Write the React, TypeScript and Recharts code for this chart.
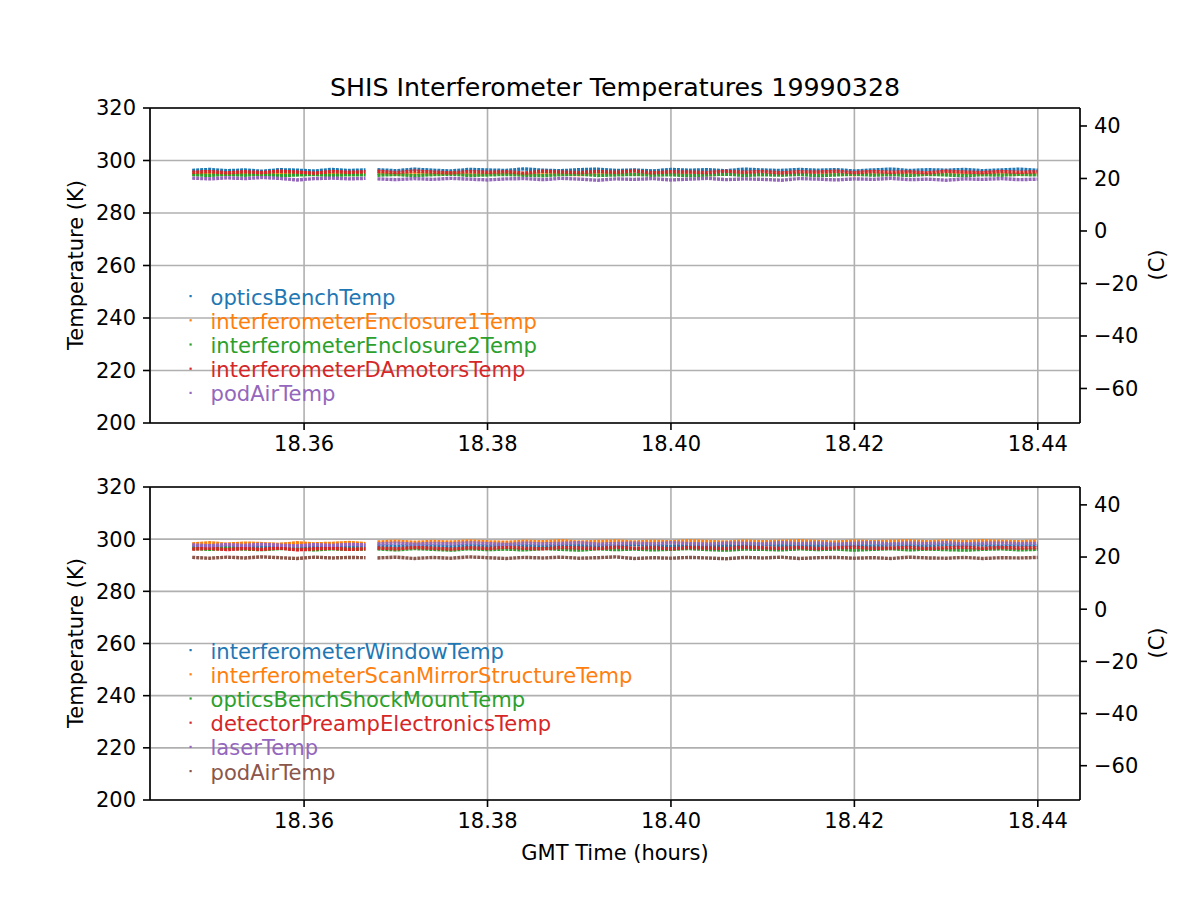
import {
  CartesianGrid,
  Line,
  LineChart,
  ReferenceLine,
  XAxis,
  YAxis,
} from 'recharts';

const FONT = '"DejaVu Sans", sans-serif';
const COLORS = ['#1f77b4', '#ff7f0e', '#2ca02c', '#d62728', '#9467bd', '#8c564b'];

// GMT time in hours; the null row marks the data gap
const times = [
  18.3478, 18.3497, 18.3516, 18.3535, 18.3554, 18.3573, 18.3592, 18.3611, 18.363, 18.3649, 18.3667,
  18.3673,
  18.368, 18.37, 18.372, 18.374, 18.376, 18.378, 18.38, 18.382, 18.384, 18.386, 18.388, 18.39,
  18.392, 18.394, 18.396, 18.398, 18.4, 18.402, 18.404, 18.406, 18.408, 18.41, 18.412, 18.414,
  18.416, 18.418, 18.42, 18.422, 18.424, 18.426, 18.428, 18.43, 18.432, 18.434, 18.436, 18.438, 18.44,
];

const xTicks = [18.36, 18.38, 18.4, 18.42, 18.44];
const kTicks = [200, 220, 240, 260, 280, 300, 320];
const cTicks = [-60, -40, -20, 0, 20, 40];

// top panel
const opticsBenchTemp = [296.2, 296.6, 296.1, 296.4, 295.9, 296.5, 296.3, 296.0, 296.6, 296.2, 296.4, null, 296.5, 296.1, 296.7, 296.3, 296.0, 296.6, 296.4, 296.2, 296.8, 296.3, 296.1, 296.5, 296.7, 296.2, 296.4, 296.0, 296.6, 296.3, 296.5, 296.1, 296.7, 296.4, 296.2, 296.6, 296.3, 296.5, 296.0, 296.4, 296.7, 296.2, 296.5, 296.3, 296.6, 296.1, 296.4, 296.7, 296.3];
const enclosure1Temp = [294.8, 295.1, 294.7, 295.0, 294.6, 294.9, 295.2, 294.8, 294.6, 295.0, 294.9, null, 295.1, 294.7, 295.0, 294.8, 295.2, 294.6, 294.9, 295.1, 294.7, 295.0, 294.8, 294.6, 295.1, 294.9, 294.7, 295.2, 294.8, 295.0, 294.6, 294.9, 295.1, 294.7, 295.0, 294.8, 295.2, 294.9, 294.6, 295.0, 294.8, 295.1, 294.7, 294.9, 295.2, 294.8, 295.0, 294.7, 294.9];
const enclosure2Temp = [294.6, 294.3, 294.7, 294.4, 294.8, 294.2, 294.5, 294.7, 294.3, 294.6, 294.5, null, 294.4, 294.7, 294.2, 294.6, 294.8, 294.3, 294.5, 294.7, 294.4, 294.2, 294.6, 294.8, 294.3, 294.5, 294.7, 294.4, 294.6, 294.2, 294.5, 294.8, 294.3, 294.6, 294.4, 294.7, 294.2, 294.5, 294.8, 294.4, 294.6, 294.3, 294.7, 294.5, 294.2, 294.6, 294.4, 294.7, 294.5];
const daMotorsTemp = [295.5, 295.8, 295.3, 295.7, 295.4, 295.9, 295.6, 295.2, 295.8, 295.5, 295.7, null, 295.9, 295.4, 296.0, 295.6, 295.3, 295.8, 295.5, 295.7, 295.2, 295.9, 295.6, 295.4, 295.8, 295.5, 296.0, 295.3, 295.7, 295.6, 295.4, 295.9, 295.5, 295.8, 295.3, 295.7, 295.6, 295.9, 295.4, 295.8, 295.5, 295.7, 295.3, 295.9, 295.6, 295.4, 295.8, 295.5, 295.7];
const podAirTop = [293.3, 293.0, 293.4, 293.1, 293.5, 293.2, 292.6, 293.1, 293.3, 293.0, 293.2, null, 293.0, 292.7, 293.1, 292.8, 293.2, 292.9, 292.6, 293.0, 293.1, 292.7, 293.2, 292.9, 292.5, 293.0, 292.8, 293.1, 292.6, 292.9, 293.2, 292.7, 293.0, 292.8, 292.5, 293.1, 292.9, 292.6, 293.0, 292.8, 293.2, 292.7, 292.9, 292.5, 293.0, 292.8, 293.1, 292.7, 292.9];

// bottom panel
const windowTemp = [297.2, 297.5, 297.0, 297.4, 297.1, 297.6, 297.3, 297.0, 297.5, 297.2, 297.4, null, 297.6, 297.3, 297.8, 297.5, 297.2, 297.7, 297.4, 297.9, 297.6, 297.3, 297.8, 297.5, 297.7, 297.4, 297.9, 297.6, 297.3, 297.8, 297.5, 297.7, 297.4, 298.0, 297.6, 297.8, 297.5, 297.9, 297.6, 297.4, 297.8, 297.7, 297.5, 297.9, 297.6, 297.8, 297.4, 297.7, 297.6];
const scanMirrorTemp = [298.2, 298.6, 298.1, 298.5, 298.3, 298.0, 298.6, 298.2, 298.4, 298.7, 298.3, null, 298.9, 299.2, 298.8, 299.1, 298.9, 299.3, 299.0, 298.8, 299.2, 299.0, 299.4, 298.9, 299.1, 299.3, 298.9, 299.2, 299.0, 299.4, 299.1, 298.9, 299.3, 299.0, 299.2, 299.4, 299.1, 298.9, 299.3, 299.0, 299.2, 299.4, 299.0, 299.3, 299.1, 299.4, 299.2, 299.0, 299.3];
const shockMountTemp = [296.4, 296.1, 296.5, 296.2, 296.0, 296.4, 296.3, 295.9, 296.3, 296.1, 296.2, null, 296.3, 295.9, 296.4, 296.1, 295.8, 296.3, 296.0, 296.2, 295.9, 296.4, 296.1, 295.8, 296.3, 296.0, 296.2, 295.9, 296.1, 296.4, 296.0, 295.8, 296.2, 296.1, 295.9, 296.3, 296.0, 296.2, 295.8, 296.1, 296.3, 295.9, 296.2, 296.0, 295.8, 296.1, 296.3, 295.9, 296.1];
const preampTemp = [296.2, 296.5, 296.0, 296.4, 296.1, 296.6, 295.9, 296.3, 296.5, 296.1, 296.3, null, 296.6, 296.3, 296.8, 296.5, 296.2, 296.7, 296.4, 296.9, 296.5, 296.3, 296.8, 296.6, 296.4, 296.9, 296.5, 296.7, 296.3, 296.8, 296.6, 296.4, 296.9, 296.7, 296.5, 296.8, 296.4, 296.7, 296.9, 296.5, 296.6, 296.8, 296.4, 296.7, 296.9, 296.5, 296.8, 296.6, 296.7];
const laserTemp = [297.8, 297.5, 297.9, 297.6, 298.0, 297.7, 297.4, 297.9, 297.6, 298.0, 297.8, null, 298.2, 298.5, 298.1, 298.4, 298.2, 298.6, 298.3, 298.0, 298.5, 298.2, 298.4, 298.6, 298.1, 298.3, 298.5, 298.2, 298.6, 298.3, 298.1, 298.5, 298.4, 298.2, 298.6, 298.3, 298.5, 298.1, 298.4, 298.6, 298.2, 298.5, 298.3, 298.6, 298.2, 298.4, 298.5, 298.3, 298.4];
const podAirBottom = [293.0, 292.7, 293.1, 292.8, 293.2, 292.9, 292.6, 293.1, 292.8, 293.0, 292.9, null, 292.8, 293.1, 292.6, 293.0, 292.7, 293.2, 292.9, 292.6, 293.0, 292.8, 293.1, 292.7, 292.9, 293.2, 292.6, 292.9, 292.7, 293.0, 292.8, 292.5, 293.0, 292.8, 293.1, 292.6, 292.9, 293.0, 292.7, 292.9, 292.6, 293.1, 292.8, 292.7, 293.0, 292.6, 292.9, 292.8, 293.0];

const topNames = [
  'opticsBenchTemp',
  'interferometerEnclosure1Temp',
  'interferometerEnclosure2Temp',
  'interferometerDAmotorsTemp',
  'podAirTemp',
];
const bottomNames = [
  'interferometerWindowTemp',
  'interferometerScanMirrorStructureTemp',
  'opticsBenchShockMountTemp',
  'detectorPreampElectronicsTemp',
  'laserTemp',
  'podAirTemp',
];
const topSeries = [opticsBenchTemp, enclosure1Temp, enclosure2Temp, daMotorsTemp, podAirTop];
const bottomSeries = [windowTemp, scanMirrorTemp, shockMountTemp, preampTemp, laserTemp, podAirBottom];

const tickStyle = { fill: '#000', fontSize: 21, fontFamily: FONT };
const axisLine = { stroke: '#000', strokeWidth: 1.6 };
const tickLine = { stroke: '#000', strokeWidth: 1.6 };

function Panel({
  series,
  top,
  marginTop,
  marginBottom,
}: {
  series: (number | null)[][];
  top: number;
  marginTop: number;
  marginBottom: number;
}) {
  const rows = times.map((t, i) => {
    const r: Record<string, number | null> = { t };
    series.forEach((s, j) => (r['s' + j] = s[i]));
    return r;
  });

  return (
    <div style={{ position: 'absolute', left: 0, top }}>
      <LineChart
        width={1200}
        height={470}
        data={rows}
        margin={{ top: marginTop, right: 40, bottom: marginBottom, left: 70 }}
      >
        <CartesianGrid yAxisId="k" stroke="#b0b0b0" strokeWidth={1.6} />
        <XAxis
          dataKey="t"
          type="number"
          domain={[18.3432, 18.4446]}
          ticks={xTicks}
          tickFormatter={(v: number) => v.toFixed(2)}
          allowDataOverflow
          height={40}
          axisLine={axisLine}
          tickLine={tickLine}
          tick={tickStyle}
          tickSize={7}
          tickMargin={6}
        />
        <YAxis
          yAxisId="k"
          domain={[200, 320]}
          ticks={kTicks}
          allowDataOverflow
          width={80}
          axisLine={axisLine}
          tickLine={tickLine}
          tick={tickStyle}
          tickSize={7}
          tickMargin={7}
        />
        <YAxis
          yAxisId="c"
          orientation="right"
          domain={[-73.15, 46.85]}
          ticks={cTicks}
          tickFormatter={(v: number) => String(v).replace('-', '\u2212')}
          allowDataOverflow
          width={80}
          axisLine={axisLine}
          tickLine={tickLine}
          tick={tickStyle}
          tickSize={7}
          tickMargin={7}
        />
        <ReferenceLine yAxisId="k" y={320} stroke="#000" strokeWidth={1.6} />
        {series.map((_, j) => (
          <Line
            key={j}
            yAxisId="k"
            dataKey={'s' + j}
            type="linear"
            stroke={COLORS[j]}
            strokeWidth={3.4}
            strokeDasharray="3 1"
            dot={false}
            connectNulls={false}
            isAnimationActive={false}
          />
        ))}
      </LineChart>
    </div>
  );
}

function Legend({ names, firstY }: { names: string[]; firstY: number }) {
  return (
    <>
      {names.map((n, i) => (
        <g key={n}>
          <rect x={189.5} y={firstY + i * 24.2 - 1} width={2.2} height={2.2} fill={COLORS[i]} />
          <text x={210.5} y={firstY + i * 24.2 + 8.5} fill={COLORS[i]} fontSize={21.1} fontFamily={FONT}>
            {n}
          </text>
        </g>
      ))}
    </>
  );
}

export default function App() {
  return (
    <div style={{ position: 'absolute', left: 0, top: 0, width: 1200, height: 900, background: '#fff' }}>
      <Panel series={topSeries} top={0} marginTop={108} marginBottom={7} />
      <Panel series={bottomSeries} top={440} marginTop={47} marginBottom={70} />
      <svg
        width={1200}
        height={900}
        style={{ position: 'absolute', left: 0, top: 0, pointerEvents: 'none' }}
      >
        <text x={615} y={96} textAnchor="middle" fontSize={25.3} fontFamily={FONT} fill="#000">
          SHIS Interferometer Temperatures 19990328
        </text>
        <text transform="translate(83,265) rotate(-90)" textAnchor="middle" fontSize={21} fontFamily={FONT} fill="#000">
          Temperature (K)
        </text>
        <text transform="translate(83,643) rotate(-90)" textAnchor="middle" fontSize={21} fontFamily={FONT} fill="#000">
          Temperature (K)
        </text>
        <text transform="translate(1164,265) rotate(-90)" textAnchor="middle" fontSize={21} fontFamily={FONT} fill="#000">
          (C)
        </text>
        <text transform="translate(1164,643) rotate(-90)" textAnchor="middle" fontSize={21} fontFamily={FONT} fill="#000">
          (C)
        </text>
        <text x={615} y={860} textAnchor="middle" fontSize={21} fontFamily={FONT} fill="#000">
          GMT Time (hours)
        </text>
        <Legend names={topNames} firstY={296} />
        <Legend names={bottomNames} firstY={650} />
      </svg>
    </div>
  );
}
